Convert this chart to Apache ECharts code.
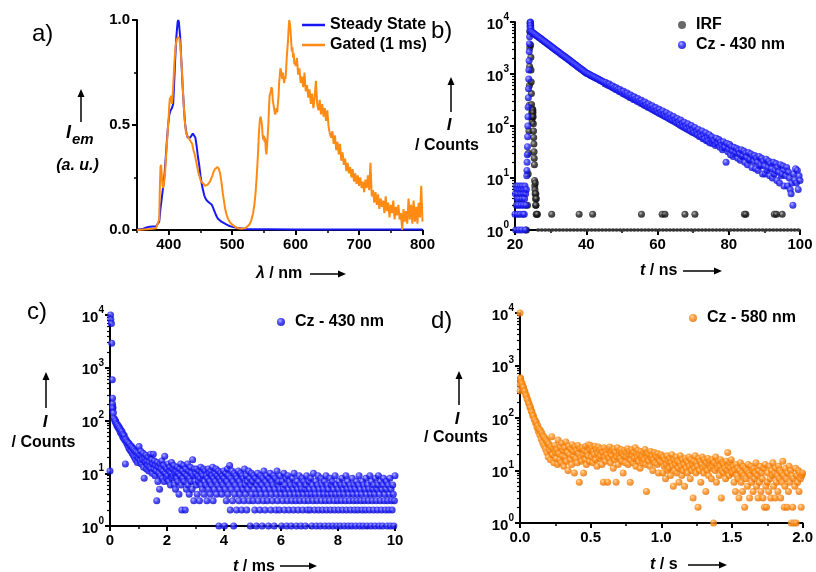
<!DOCTYPE html>
<html><head><meta charset="utf-8">
<script src="https://cdn.jsdelivr.net/npm/echarts@6/dist/echarts.min.js"></script>
<style>html,body{margin:0;padding:0;background:#fff}#c{width:816px;height:572px}</style>
</head><body><div id="c"></div><script>
// ---------------- DATA ----------------
// Panel a: emission spectra [wavelength nm, normalised intensity]
const aSteady = [[350,0.002],[355,0.004],[360,0.006],[365,0.012],[370,0.016],[375,0.017],[380,0.017],[383,0.02],[385,0.04],[387,0.1],[389,0.15],[391,0.2],[393,0.25],[395,0.33],[397,0.42],[399,0.5],[401,0.55],[403,0.57],[405,0.58],[407,0.6],[408,0.66],[410,0.8],[412,0.92],[414,0.99],[415,1.0],[416,0.99],[418,0.92],[420,0.8],[422,0.68],[424,0.58],[426,0.5],[428,0.46],[430,0.44],[432,0.44],[434,0.44],[436,0.45],[438,0.46],[440,0.46],[442,0.44],[444,0.4],[446,0.35],[448,0.31],[450,0.26],[452,0.22],[454,0.19],[456,0.165],[458,0.15],[460,0.14],[462,0.135],[464,0.13],[466,0.128],[468,0.12],[470,0.105],[472,0.09],[474,0.075],[476,0.062],[478,0.052],[480,0.045],[483,0.04],[486,0.035],[490,0.028],[495,0.02],[500,0.015],[505,0.012],[510,0.009],[515,0.007],[520,0.005],[530,0.004],[540,0.003],[560,0.003],[600,0.002],[650,0.002],[700,0.002],[750,0.002],[800,0.002]];
const aGated = [[350,0],[355,0.001],[360,0.002],[365,0.003],[370,0.005],[375,0.006],[380,0.008],[383,0.01],[385,0.05],[386,0.2],[387,0.3],[388,0.31],[389,0.26],[390,0.22],[391,0.2],[392,0.21],[394,0.26],[396,0.36],[398,0.45],[400,0.54],[401,0.6],[402,0.63],[403,0.62],[404,0.64],[405,0.6],[406,0.63],[407,0.68],[409,0.8],[411,0.88],[413,0.91],[415,0.92],[417,0.91],[419,0.85],[421,0.75],[423,0.63],[425,0.53],[427,0.47],[429,0.45],[431,0.44],[433,0.43],[435,0.42],[437,0.41],[439,0.38],[441,0.36],[443,0.33],[445,0.3],[447,0.27],[449,0.25],[451,0.23],[453,0.225],[455,0.22],[457,0.21],[459,0.21],[461,0.215],[463,0.22],[465,0.23],[467,0.235],[469,0.26],[471,0.28],[473,0.29],[475,0.295],[477,0.3],[479,0.29],[481,0.27],[483,0.23],[485,0.18],[487,0.14],[489,0.1],[491,0.075],[493,0.058],[495,0.045],[497,0.035],[500,0.026],[503,0.018],[506,0.012],[509,0.008],[512,0.006],[515,0.006],[518,0.007],[521,0.009],[524,0.015],[527,0.025],[530,0.045],[533,0.08],[535,0.12],[537,0.18],[539,0.27],[541,0.38],[542,0.45],[543,0.5],[544,0.53],[545,0.54],[546,0.52],[547,0.5],[548,0.45],[549,0.43],[550,0.45],[551,0.42],[552,0.44],[553,0.38],[554,0.36],[555,0.4],[556,0.45],[557,0.5],[558,0.58],[559,0.64],[560,0.65],[561,0.66],[562,0.68],[563,0.67],[564,0.62],[565,0.6],[566,0.58],[567,0.56],[568,0.55],[569,0.57],[570,0.58],[571,0.56],[572,0.6],[573,0.63],[574,0.7],[575,0.73],[576,0.77],[577,0.76],[578,0.74],[579,0.72],[580,0.75],[581,0.72],[582,0.7],[583,0.73],[584,0.72],[585,0.76],[586,0.82],[587,0.86],[588,0.9],[589,0.96],[590,1.0],[591,0.98],[592,0.95],[593,0.9],[594,0.85],[595,0.87],[596,0.82],[597,0.84],[598,0.79],[599,0.8],
[600,0.78],[602,0.82],[604,0.74],[606,0.77],[608,0.7],[610,0.73],[612,0.68],[614,0.75],[616,0.66],[618,0.69],[620,0.63],[622,0.67],[624,0.6],[626,0.65],[628,0.58],[630,0.63],[632,0.71],[634,0.6],[636,0.57],[638,0.62],[640,0.55],[642,0.6],[644,0.54],[646,0.58],[648,0.52],[650,0.57],[652,0.49],[654,0.46],[656,0.44],[658,0.47],[660,0.41],[662,0.45],[664,0.38],[666,0.42],[668,0.36],[670,0.41],[672,0.33],[674,0.37],[676,0.31],[678,0.34],[680,0.28],[682,0.32],[684,0.27],[686,0.3],[688,0.25],[690,0.29],[692,0.23],[694,0.27],[696,0.22],[698,0.26],[700,0.21],[702,0.25],[704,0.2],[706,0.23],[708,0.18],[710,0.24],[712,0.2],[714,0.26],[716,0.19],[718,0.32],[720,0.16],[722,0.19],[724,0.13],[726,0.18],[728,0.12],[730,0.17],[732,0.1],[734,0.15],[736,0.11],[738,0.14],[740,0.08],[742,0.16],[744,0.09],[746,0.13],[748,0.06],[750,0.12],[752,0.08],[754,0.14],[756,0.05],[758,0.11],[760,0.07],[762,0.12],[764,0.05],[766,0.08],[768,0.0],[770,0.1],[772,0.04],[774,0.09],[776,0.03],[778,0.15],[780,0.05],[782,0.12],[784,0.03],[786,0.14],[788,0.04],[790,0.11],[792,0.03],[794,0.13],[796,0.06],[798,0.21],[800,0.04]];

// Panel b: ns decay (counts)
const bCzPreStart = 20.0, bCzPreStep = 0.1;
const bCzPre = [2,5,1,7,3,6,4,2,5,7,3,1,6,4,2,7,5,3,6,1,4,7,2,5,3,6,2,4,7,1,5,3,6];
const bCzRise = [[23.3,11],[23.35,14],[23.4,20],[23.45,28],[23.5,40],[23.55,62],[23.6,100],[23.65,150],[23.7,230],[23.75,350],[23.8,520],[23.85,800],[23.9,1200],[23.95,1800],[24.0,2700],[24.05,3800],[24.1,5200],[24.15,6800],[24.2,8200],[24.25,9500],[24.3,10000],[24.35,9600],[24.4,8600],[24.45,7600]];
const bCzStart = 24.5, bCzStep = 0.25;
const bCzDecay = [6600,6390,
6220,6020,5870,5700, 5530,5380,5200,5060, 4910,4790,4620,4500, 4360,4230,4120,3990, 3870,3770,3650,3540,
3440,3330,3240,3150, 3050,2970,2870,2800, 2710,2640,2550,2490, 2410,2340,2270,2210, 2140,2080,2020,1960,
1900,1850,1790,1740, 1690,1640,1590,1540, 1500,1460,1410,1370, 1330,1290,1250,1220, 1180,1150,1110,1080,
1050,1025,1010,985, 967,940,930,905, 890,875,850,835, 819,800,790,770, 754,740,720,710,
694,650,690,630, 639,600,640,580, 588,555,590,530, 541,505,545,490, 498,460,505,450,
459,420,465,410, 422,390,430,375, 389,355,395,345, 358,325,365,318, 329,300,338,292,
303,275,312,268, 279,250,290,245, 257,230,265,226, 236,212,245,205, 218,195,226,188,
200,178,210,172, 184,165,195,158, 169,150,180,145, 155,138,165,132, 142,126,152,122,
130,115,140,110, 120,104,130,100, 110,96,118,92, 101,88,110,84, 93,80,102,76,
85,74,94,70, 78,67,86,63, 72,62,80,57, 66,56,74,52, 60,51,68,47,
55,62,46,52, 51,42,58,45, 47,55,39,49, 43,35,50,38, 39,20,46,32,
36,44,28,40, 33,26,39,29, 31,37,24,34, 29,22,35,26, 27,33,20,30,
25,18,31,22, 23,29,16,26, 21,27,15,24, 20,14,26,17, 18,24,12,21,
17,12,23,14, 16,21,11,19, 15,10,20,12, 14,19,9,16, 13,8,18,11,
12,17,7,14, 11,16,7,13, 10,6,5,8, 3,12,9,15, 8,14,6,11,
9];
const bIrf = [[23.2,1],[23.5,3],[23.7,12],[23.8,30],[23.9,80],[24.0,250],[24.05,600],[24.1,1400],[24.15,3200],[24.2,6500],[24.25,9800],[24.3,9000],[24.35,6000],[24.4,3600],[24.45,2100],[24.5,1200],[24.55,700],[24.6,420],[24.65,260],[24.7,180],[24.75,140],[24.8,120],[24.85,150],[24.9,190],[24.95,210],[25.0,200],[25.05,180],[25.1,150],[25.15,110],[25.2,80],[25.25,60],[25.3,45],[25.35,32],[25.4,24],[25.45,18],[25.5,9],[25.55,7],[25.6,6],[25.65,5],[25.7,8],[25.75,4],[25.8,3],[25.85,5],[25.9,3],[25.95,2],[26.0,4],[26.1,2],[26.3,2],[30.3,2],[38,2],[41.8,2],[55.5,2],[61.3,2],[62.1,2],[67.7,2],[70.5,2],[84.4,2],[84.8,2],[92.8,2],[93.4,2],[95,2]];
const bIrfBaseStart = 26.5, bIrfBaseStep = 1.0;
const bIrfBase = [1,1,1,1,1,1,1,1,1,1,1,1,1,1,1,1,1,1,1,1,1,1,1,1,1,1,1,1,1,1,1,1,1,1,1,1,1,1,1,1,1,1,1,1,1,1,1,1,1,1,1,1,1,1,1,1,1,1,1,1,1,1,1,1,1,1,1,1,1,1,1,1,1,1];

// Panel c: ms decay, Cz 430 nm
const cEarly = [[0,11],[0.02,10000],[0.03,8200],[0.05,6900],[0.06,2900],[0.08,590],[0.09,265],[0.09,205],[0.1,180]];
const cStart = 0.10, cStep = 0.02;
const cMain = [170,140,110,105,95,98,88,80,84,74,78,68,72,60,66,56,62,50,55,46,52,42,15,44,38,40,34,38,30,36,28,33,26,32,24,30,22,28,20,26,18,25,21,16,24,
19,32,22,17,26,15,21,18,24,13,8,19,16,22,12,17,14,20,11,16,13,23,12,18,10,15,23,12,17,9,14,11,3,16,7,13,10,5,15,9,12,17,8,11,14,7,21,10,13,8,
12,9,15,7,11,13,6,10,16,8,12,9,14,6,10,5,11,8,13,7,10,4,12,9,15,6,2,11,8,14,7,10,2,12,5,9,15,6,11,4,8,13,7,10,5,18,9,3,12,7,
10,6,12,4,9,7,11,3,8,13,6,10,5,9,12,4,7,11,6,9,3,8,12,5,10,7,4,11,6,9,13,3,8,5,10,7,12,4,9,6,11,1,8,5,10,7,4,9,6,11,
8,1,5,10,3,7,12,4,9,6,14,2,8,5,11,3,7,1,10,4,6,9,2,8,5,11,3,7,4,10,6,2,9,5,8,3,12,6,4,9,2,7,5,11,3,8,1,6,10,4,
7,3,9,5,2,8,4,1,6,10,3,7,5,2,9,4,6,1,8,3,11,5,2,7,4,9,3,6,1,8,5,10,2,4,7,3,6,9,1,5,8,2,4,11,3,6,7,2,5,9,
4,1,7,3,5,10,2,6,4,8,1,3,9,5,2,7,4,6,1,3,8,5,2,10,4,6,3,1,7,5,2,4,9,3,6,1,5,8,2,4,7,3,5,1,6,9,2,4,3,7,
5,2,8,4,1,6,3,10,5,2,4,7,1,3,6,9,2,5,4,1,8,3,6,2,5,4,7,1,3,9,2,6,4,5,1,3,8,2,6,4,7,1,5,3,2,9,4,6,1,3,
5,2,7,4,1,6,3,8,2,5,4,1,6,3,9,2,5,7,1,4,3,6,2,5,1,8,4,3,6,2,5,1,7,3,4,2,6,9,1,5,3,4,2,7,1,6,3,5,2,8,
4,1,6,3,5,2,9,4,1,7,3,5,2,6,4,1,8,3,5,2,6,9,1,4,3,7,2,5,1,6,8,3,4,2,5,7,1,3,6,2,4,8,1,5,3,2,6,4,1,3,9];

// Panel d: s decay, Cz 580 nm
const dEarly = [[0,10000],[0.001,330],[0.002,430],[0.003,520],[0.004,580]];
const dStart = 0.005, dStep = 0.005;
const dMain = [560,480,450,400,380,330,320,280,265,235,220,196,185,160,158,136,130,112,110,96,92,80,84,66,72,56,62,48,58,40,52,34,45,30,42,26,38,22,35,18,32,24,16,28,44,20,26,14,30,22,
17,25,13,38,21,16,28,14,33,19,24,12,27,18,35,15,22,10,29,20,16,26,13,31,19,23,9,28,17,24,14,30,21,6,26,18,15,27,20,9,24,16,29,13,22,19,31,15,25,30,
18,27,14,23,20,29,16,25,12,21,28,17,24,19,26,13,22,6,27,18,15,23,20,6,25,17,28,14,21,19,24,11,26,16,22,6,18,27,13,20,23,17,25,15,21,9,19,24,14,22,
18,26,13,20,23,6,16,25,19,14,22,17,27,12,21,18,24,15,20,11,23,17,19,14,22,16,25,13,4,18,21,15,20,12,23,17,19,10,16,22,14,20,18,13,21,9,17,15,19,20,
14,9,18,12,16,7,13,19,10,15,11,17,8,14,20,12,5,16,10,13,18,9,15,11,6,14,19,12,8,16,10,13,5,17,11,15,9,14,18,12,7,16,10,13,3,15,11,19,9,14,
12,2,17,10,15,6,13,18,11,9,16,12,4,14,10,17,8,13,15,11,7,16,12,1,14,10,18,6,13,11,15,8,12,16,3,10,14,9,13,11,7,15,10,22,12,8,14,11,16,9,
9,12,6,10,4,13,8,11,7,3,10,14,6,9,4,12,8,2,11,7,10,5,13,9,3,8,12,6,10,4,11,7,9,14,5,8,3,10,6,12,4,9,7,3,11,2,13,5,2,6,
9,4,12,7,3,10,8,14,5,9,3,11,6,8,4,12,7,10,3,9,6,15,8,2,5,11,7,2,9,4,12,6,10,1,8,2,7,1,5,11,1,8,6,10,4,9,7,2,8,9];

// Tick values
const aXMajor = [400,500,600,700,800];
const aXMinor = [350,450,550,650,750];
const logMinor = [2,3,4,5,6,7,8,9,20,30,40,50,60,70,80,90,200,300,400,500,600,700,800,900,2000,3000,4000,5000,6000,7000,8000,9000];

// ---------------- HELPERS ----------------
const FONT = '"Liberation Sans", Arial, Helvetica, sans-serif';
function seq(t0, dt, vals) { return vals.map((v, i) => [+(t0 + i * dt).toFixed(4), v]); }
function sphere(hi, mid, dark) {
  return {type: 'radial', x: 0.38, y: 0.35, r: 0.7,
    colorStops: [{offset: 0, color: hi}, {offset: 0.45, color: mid}, {offset: 1, color: dark}]};
}
const BLUE = sphere('#a0a0ff', '#2020ff', '#0000b8');
const ORANGE = sphere('#ffd098', '#ff8a10', '#e06a00');
const BLACK = sphere('#a8a8a8', '#222222', '#000000');

const labelStyle = {color: '#000', fontSize: 15, fontWeight: 'bold', fontFamily: FONT, margin: 7};
const lineStyle = {show: true, lineStyle: {color: '#000', width: 2}};
const tickStyle = {show: true, length: 5, lineStyle: {color: '#000', width: 2}};
const minorStyle = {show: true, splitNumber: 2, length: 3, lineStyle: {color: '#000', width: 1.5}};
const logRich = {
  b: {fontSize: 15, fontWeight: 'bold', fontFamily: FONT, color: '#000', lineHeight: 20, verticalAlign: 'bottom'},
  e: {fontSize: 10, fontWeight: 'bold', fontFamily: FONT, color: '#000', lineHeight: 10, verticalAlign: 'top'}
};
function logFmt(v) { return '{b|10}{e|' + Math.round(Math.log10(v)) + '}'; }

function valX(grid, min, max, interval, fmt) {
  return {type: 'value', gridIndex: grid, position: 'bottom', min, max, interval,
    axisLine: lineStyle, axisTick: tickStyle, minorTick: minorStyle, splitLine: {show: false},
    axisLabel: Object.assign({}, labelStyle, fmt ? {formatter: fmt} : {})};
}
function logY(grid) {
  return {type: 'log', logBase: 10, gridIndex: grid, position: 'left', min: 1, max: 10000, splitNumber: 4,
    axisLine: lineStyle, axisTick: tickStyle, splitLine: {show: false},
    axisLabel: Object.assign({}, labelStyle, {margin: 6, formatter: logFmt, rich: logRich})};
}
function logYMinor(grid) {
  return {type: 'log', logBase: 10, gridIndex: grid, position: 'left', min: 1, max: 10000,
    axisLine: {show: false}, axisLabel: {show: false}, splitLine: {show: false},
    axisTick: {show: true, length: 3, customValues: logMinor, lineStyle: {color: '#000', width: 1.2}}};
}

function txt(x, y, text, font, align, rich) {
  const st = {text, font, fill: '#000', align: align || 'left', verticalAlign: 'middle'};
  if (rich) st.rich = rich;
  return {type: 'text', x, y, style: st, z: 100};
}
function arrowUp(x, yb, yt) {
  return [{type: 'line', shape: {x1: x, y1: yb, x2: x, y2: yt + 7}, style: {stroke: '#000', lineWidth: 1.5}, z: 100},
    {type: 'polygon', shape: {points: [[x - 3.5, yt + 8], [x + 3.5, yt + 8], [x, yt]]}, style: {fill: '#000'}, z: 100}];
}
function arrowRight(xl, xr, y) {
  return [{type: 'line', shape: {x1: xl, y1: y, x2: xr - 7, y2: y}, style: {stroke: '#000', lineWidth: 1.5}, z: 100},
    {type: 'polygon', shape: {points: [[xr - 8, y - 3.5], [xr - 8, y + 3.5], [xr, y]]}, style: {fill: '#000'}, z: 100}];
}
const titleRich = {
  i: {fontSize: 16, fontWeight: 'bold', fontStyle: 'italic', fontFamily: FONT, fill: '#000'},
  n: {fontSize: 16, fontWeight: 'bold', fontFamily: FONT, fill: '#000'}
};
const BI = 'italic bold 16px ' + FONT;
const B16 = 'bold 16px ' + FONT;
const PANEL = '24px ' + FONT;

const graphics = [].concat(
  txt(32, 34, 'a)', PANEL), txt(431, 31, 'b)', PANEL), txt(27, 312, 'c)', PANEL), txt(431, 321, 'd)', PANEL),
  // panel a titles
  txt(256, 274, '{i|λ}{n| / nm}', B16, 'left', titleRich), arrowRight(310, 346, 274),
  arrowUp(81, 122, 89),
  txt(66, 133, 'I', 'italic bold 18px ' + FONT), txt(72, 140, 'em', 'italic bold 15px ' + FONT),
  txt(77.5, 166, '(a. u.)', BI, 'center'),
  // panel b
  arrowUp(451, 112, 77), txt(449, 125, 'I', 'italic bold 17px ' + FONT, 'center'), txt(447, 146, '/ Counts', B16, 'center'),
  txt(640, 271, '{i|t}{n| / ns}', B16, 'left', titleRich), arrowRight(683, 722, 271),
  // panel c
  arrowUp(46, 408, 372), txt(45, 422, 'I', 'italic bold 17px ' + FONT, 'center'), txt(43.5, 443, '/ Counts', B16, 'center'),
  txt(233, 567, '{i|t}{n| / ms}', B16, 'left', titleRich), arrowRight(280, 317, 566),
  // panel d
  arrowUp(459, 405, 371), txt(457, 419, 'I', 'italic bold 17px ' + FONT, 'center'), txt(456, 438, '/ Counts', B16, 'center'),
  txt(650, 565, '{i|t}{n| / s}', B16, 'left', titleRich), arrowRight(688, 727, 565)
);

const legendText = {fontSize: 16, fontWeight: 'bold', color: '#000', fontFamily: FONT};

const option = {
  animation: false,
  backgroundColor: '#fff',
  grid: [
    {left: 137, top: 20, width: 285.5, height: 210},
    {left: 515, top: 22, width: 285, height: 208},
    {left: 110, top: 315, width: 285, height: 211},
    {left: 520, top: 313, width: 285, height: 210}
  ],
  xAxis: [
    {type: 'value', gridIndex: 0, position: 'bottom', min: 350, max: 800,
      axisLine: lineStyle, axisTick: Object.assign({}, tickStyle, {customValues: aXMajor}),
      axisLabel: Object.assign({}, labelStyle, {customValues: aXMajor}), splitLine: {show: false}},
    {type: 'value', gridIndex: 0, position: 'bottom', min: 350, max: 800,
      axisLine: {show: false}, axisLabel: {show: false}, splitLine: {show: false},
      axisTick: {show: true, length: 3, customValues: aXMinor, lineStyle: {color: '#000', width: 1.5}}},
    valX(1, 20, 100, 20),
    valX(2, 0, 10, 2),
    valX(3, 0, 2, 0.5, v => v.toFixed(1))
  ],
  yAxis: [
    {type: 'value', gridIndex: 0, position: 'left', min: 0, max: 1, interval: 0.5,
      axisLine: lineStyle, axisTick: tickStyle, minorTick: minorStyle, splitLine: {show: false},
      axisLabel: Object.assign({}, labelStyle, {formatter: v => v.toFixed(1)})},
    logY(1), logYMinor(1), logY(2), logYMinor(2), logY(3), logYMinor(3)
  ],
  legend: [
    {data: [{name: 'Steady State', icon: 'rect'}, {name: 'Gated (1 ms)', icon: 'rect'}], orient: 'vertical', left: 302, top: 17, padding: 0,
      itemWidth: 23, itemHeight: 2.5, itemGap: 4, selectedMode: false, textStyle: legendText},
    {data: ['IRF', 'Cz - 430 nm'], orient: 'vertical', left: 678, top: 17, padding: 0,
      itemWidth: 18, itemHeight: 8, itemGap: 4, selectedMode: false, textStyle: legendText},
    {data: ['Cz - 430 nm'], orient: 'vertical', left: 277, top: 314, padding: 0,
      itemWidth: 18, itemHeight: 8, selectedMode: false, textStyle: legendText},
    {data: ['Cz - 580 nm'], orient: 'vertical', left: 689, top: 310, padding: 0,
      itemWidth: 18, itemHeight: 8, selectedMode: false, textStyle: legendText}
  ],
  graphic: graphics,
  series: [
    {name: 'Steady State', type: 'line', xAxisIndex: 0, yAxisIndex: 0, data: aSteady, symbol: 'none',
      lineStyle: {color: '#1818f2', width: 2}, itemStyle: {color: '#1818f2'}, z: 2},
    {name: 'Gated (1 ms)', type: 'line', xAxisIndex: 0, yAxisIndex: 0, data: aGated, symbol: 'none',
      lineStyle: {color: '#ff8a14', width: 2}, itemStyle: {color: '#ff8a14'}, z: 3},
    {name: 'IRF', type: 'scatter', xAxisIndex: 2, yAxisIndex: 1, data: seq(bIrfBaseStart, bIrfBaseStep, bIrfBase),
      symbolSize: 4, itemStyle: {color: '#444'}, z: 2},
    {name: 'IRF', type: 'scatter', xAxisIndex: 2, yAxisIndex: 1, data: bIrf,
      symbolSize: 7, itemStyle: {color: BLACK}, z: 3},
    {name: 'Cz - 430 nm', type: 'scatter', xAxisIndex: 2, yAxisIndex: 1,
      data: seq(bCzPreStart, bCzPreStep, bCzPre).concat(bCzRise, seq(bCzStart, bCzStep, bCzDecay)),
      symbolSize: 7, itemStyle: {color: BLUE}, z: 4},
    {name: 'Cz - 430 nm', type: 'scatter', xAxisIndex: 3, yAxisIndex: 3,
      data: cEarly.concat(seq(cStart, cStep, cMain)), symbolSize: 7, itemStyle: {color: BLUE}, z: 4},
    {name: 'Cz - 580 nm', type: 'scatter', xAxisIndex: 4, yAxisIndex: 5,
      data: dEarly.concat(seq(dStart, dStep, dMain)), symbolSize: 7, itemStyle: {color: ORANGE}, z: 4}
  ]
};
const chart = echarts.init(document.getElementById('c'), null, {renderer: 'canvas'});
chart.setOption(option);
</script></body></html>
